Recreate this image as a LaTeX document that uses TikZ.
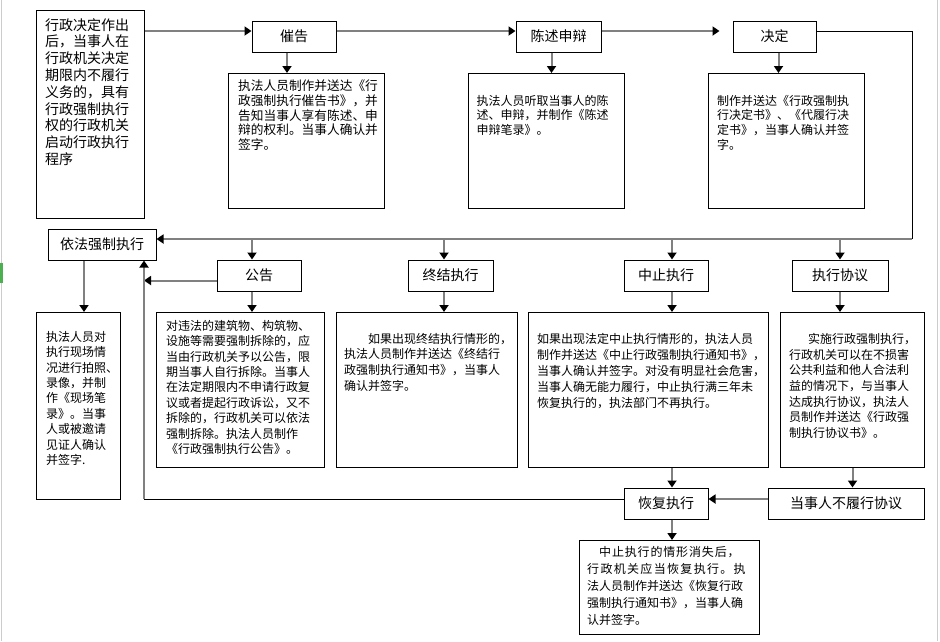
\documentclass[tikz,border=0pt]{standalone}
\usepackage{fontspec}
\setmainfont{Noto Sans CJK SC}
\usetikzlibrary{arrows.meta,positioning}
\definecolor{sheetgreen}{RGB}{76,175,80}
\tikzset{
	box/.style={draw,line width=1pt,inner sep=0pt},
	lbl/.style={box,minimum height=31pt,font=\fontsize{14}{16}\selectfont},
	body/.style={anchor=north west,inner sep=0pt,align=left,font=\fontsize{12}{15.6}\selectfont},
	arr/.style={draw=gray,line width=2pt,-{Triangle[length=7pt,width=9pt,color=black]}},
	wire/.style={draw=black,line width=1pt},
	sheetedge/.style={draw=black!20,line width=1pt}
}
\begin{document}
\begin{tikzpicture}[x=1pt,y=-1pt]
			\useasboundingbox (0,0) rectangle (940,641);
			\draw[sheetedge] (1.5,0) -- (1.5,641);
			\draw[sheetedge] (937.5,0) -- (937.5,641);
			\fill[sheetgreen] (0,263) rectangle (3,283);
			\node[box,anchor=north west,minimum width=108pt,minimum height=208pt] (start) at (36,10) {};
			\node[body,font=\fontsize{14}{16.8}\selectfont,below right=8pt and 9pt of start.north west] (starttext) {行政决定作出\\后，当事人在\\行政机关决定\\期限内不履行\\义务的，具有\\行政强制执行\\权的行政机关\\启动行政执行\\程序};
			\node[lbl,minimum width=84pt] (cuigao) at (294,36.5) {催告};
			\node[lbl,minimum width=85pt] (chenshu) at (558.5,36.5) {陈述申辩};
			\node[lbl,minimum width=83pt] (jueding) at (774.5,36.5) {决定};
			\node[box,anchor=north west,minimum width=156pt,minimum height=135pt] (cuigaobox) at (228,73) {};
			\node[body,font=\fontsize{12.7}{14.6}\selectfont,below right=7pt and 10pt of cuigaobox.north west] (cuigaotext) {执法人员制作并送达《行\\政强制执行催告书》，并\\告知当事人享有陈述、申\\辩的权利。当事人确认并\\签字。};
			\node[box,anchor=north west,minimum width=156pt,minimum height=135pt] (chenshubox) at (468,73) {};
			\node[body,font=\fontsize{12}{14.6}\selectfont,below right=22pt and 8.5pt of chenshubox.north west] (chenshutext) {执法人员听取当事人的陈\\述、申辩，并制作《陈述\\申辩笔录》。};
			\node[box,anchor=north west,minimum width=156pt,minimum height=135pt] (juedingbox) at (708,73) {};
			\node[body,font=\fontsize{12}{14.6}\selectfont,below right=22pt and 9pt of juedingbox.north west] (juedingtext) {制作并送达《行政强制执\\行决定书》、《代履行决\\定书》，当事人确认并签\\字。};
			\node[lbl,minimum width=108pt] (yifa) at (102,244.5) {依法强制执行};
			\node[lbl,minimum width=84pt] (gonggao) at (259,275.5) {公告};
			\node[lbl,minimum width=85pt] (zhongjie) at (450.5,275.5) {终结执行};
			\node[lbl,minimum width=84pt] (zhongzhi) at (666,275.5) {中止执行};
			\node[lbl,minimum width=96pt] (xieyi) at (840,275.5) {执行协议};
			\node[box,anchor=north west,minimum width=84pt,minimum height=187pt] (yifabox) at (36,312) {};
			\node[body,font=\fontsize{12}{15.4}\selectfont,below right=19pt and 10pt of yifabox.north west] (yifatext) {执法人员对\\执行现场情\\况进行拍照、\\录像，并制\\作《现场笔\\录》。当事\\人或被邀请\\见证人确认\\并签字.};
			\node[box,anchor=north west,minimum width=168pt,minimum height=155pt] (gonggaobox) at (156,312) {};
			\node[body,font=\fontsize{12}{15.4}\selectfont,below right=8pt and 10pt of gonggaobox.north west] (gonggaotext) {对违法的建筑物、构筑物、\\设施等需要强制拆除的，应\\当由行政机关予以公告，限\\期当事人自行拆除。当事人\\在法定期限内不申请行政复\\议或者提起行政诉讼，又不\\拆除的，行政机关可以依法\\强制拆除。执法人员制作\\《行政强制执行公告》。};
			\node[box,anchor=north west,minimum width=181pt,minimum height=155pt] (zhongjiebox) at (336,312) {};
			\node[body,below right=21pt and 8pt of zhongjiebox.north west] (zhongjietext) {\hspace*{2em}如果出现终结执行情形的，\\执法人员制作并送达《终结行\\政强制执行通知书》，当事人\\确认并签字。};
			\node[box,anchor=north west,minimum width=240pt,minimum height=155pt] (zhongzhibox) at (528,312) {};
			\node[body,font=\fontsize{12}{16}\selectfont,below right=21pt and 9pt of zhongzhibox.north west] (zhongzhitext) {如果出现法定中止执行情形的，执法人员\\制作并送达《中止行政强制执行通知书》，\\当事人确认并签字。对没有明显社会危害，\\当事人确无能力履行，中止执行满三年未\\恢复执行的，执法部门不再执行。};
			\node[box,anchor=north west,minimum width=144pt,minimum height=155pt] (xieyibox) at (780,312) {};
			\node[body,font=\fontsize{12}{15.7}\selectfont,below right=21pt and 9pt of xieyibox.north west] (xieyitext) {\hspace*{19pt}实施行政强制执行，\\行政机关可以在不损害\\公共利益和他人合法利\\益的情况下，与当事人\\达成执行协议，执法人\\员制作并送达《行政强\\制执行协议书》。};
			\node[lbl,minimum width=84pt] (huifu) at (666,503.5) {恢复执行};
			\node[lbl,minimum width=156pt] (buluxing) at (846,503.5) {当事人不履行协议};
			\node[box,anchor=north west,minimum width=180pt,minimum height=94pt] (huifubox) at (579,540) {};
			\node[body,font=\fontsize{12}{17}\selectfont,below right=6pt and 8pt of huifubox.north west] (huifutext) {\hspace*{1em}{\addfontfeature{LetterSpace=7}中止执行的情形消失后，}\\{\addfontfeature{LetterSpace=11}行政机关应当恢复执行。执}\\法人员制作并送达《恢复行政\\强制执行通知书》，当事人确\\认并签字。};
			\coordinate (toprow) at (0,31);
			\coordinate (hub) at (912,239);
			\coordinate (back) at (144,499);
			\draw[arr] (start.east |- toprow) -- (cuigao.west |- toprow);
			\draw[arr] (cuigao.east |- toprow) -- (chenshu.west |- toprow);
			\draw[arr,shorten >=13pt] (chenshu.east |- toprow) -- (jueding.west |- toprow);
			\draw[wire] (jueding.east |- toprow) -| (hub);
			\draw[arr] (hub) -- (yifa.east |- hub);
			\draw[arr] ([xshift=-7pt]cuigao.south) -- ([xshift=-7pt]cuigao.south |- cuigaobox.north);
			\draw[arr] ([xshift=-7pt]chenshu.south) -- ([xshift=-7pt]chenshu.south |- chenshubox.north);
			\draw[arr] ([xshift=4pt]jueding.south) -- ([xshift=4pt]jueding.south |- juedingbox.north);
			\draw[arr] ([xshift=-18pt]yifa.south) -- ([xshift=-18pt]yifa.south |- yifabox.north);
			\draw[arr] ([xshift=-7pt]gonggao.north |- hub) -- ([xshift=-7pt]gonggao.north);
			\draw[arr] ([xshift=-6.5pt]zhongjie.north |- hub) -- ([xshift=-6.5pt]zhongjie.north);
			\draw[arr] ([xshift=6pt]zhongzhi.north |- hub) -- ([xshift=6pt]zhongzhi.north);
			\draw[arr] (xieyi.north |- hub) -- (xieyi.north);
			\draw[arr] ([xshift=-7pt]gonggao.south) -- ([xshift=-7pt]gonggao.south |- gonggaobox.north);
			\draw[arr] ([xshift=-6.5pt]zhongjie.south) -- ([xshift=-6.5pt]zhongjie.south |- zhongjiebox.north);
			\draw[arr] ([xshift=6pt]zhongzhi.south) -- ([xshift=6pt]zhongzhi.south |- zhongzhibox.north);
			\draw[arr] (xieyi.south) -- (xieyi.south |- xieyibox.north);
			\draw[arr] ([yshift=-5pt]gonggao.west) -- ([yshift=-5pt]gonggao.west -| back);
			\draw[wire] (huifu.west |- back) -- (back);
			\draw[arr] (back) -- (back |- yifa.south);
			\draw[arr] (buluxing.west |- back) -- (huifu.east |- back);
			\draw[arr] ([xshift=6pt]huifu.north |- zhongzhibox.south) -- ([xshift=6pt]huifu.north);
			\draw[arr] (xieyibox.south) -- (xieyibox.south |- buluxing.north);
			\draw[arr] ([xshift=6pt]huifu.south) -- ([xshift=6pt]huifu.south |- huifubox.north);
		\end{tikzpicture}
\end{document}
